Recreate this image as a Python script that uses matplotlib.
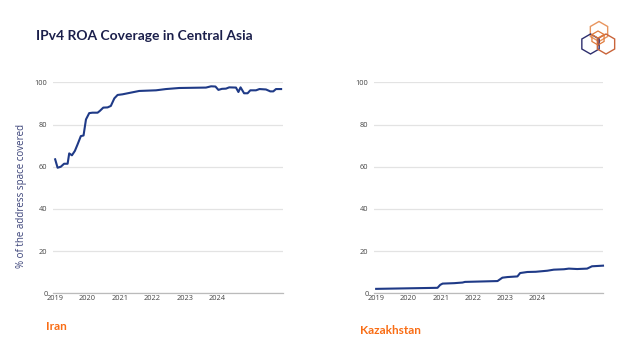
import matplotlib
matplotlib.use("Agg")
import matplotlib.pyplot as plt
from matplotlib.patches import RegularPolygon
import numpy as np

# ---- data (x = months since Jan 2019) ----
iran_months = [0, 0.9, 2.1, 3.3, 4.6, 5.2, 6.2, 7.3, 8.3, 9.5, 10.5, 11.4, 12.6, 13.8,
               15.7, 16.5, 17.8, 19.4, 20.6, 21.9, 23.1, 24.9, 28, 31.1, 37.3, 41,
               45.9, 55.8, 57.7, 59.3, 60.4, 61.7, 63.2, 64.4, 66.9, 67.8, 68.6,
               69.9, 71.2, 72.2, 74.3, 75.6, 78, 79.6, 80.7, 81.7, 83.6]
iran_values = [63.5, 59.5, 60.0, 61.4, 61.4, 66.3, 65.4, 67.5, 70.6, 74.5, 74.8, 82.4,
               85.4, 85.6, 85.6, 86.4, 88.0, 88.1, 88.8, 92.4, 94.0, 94.3, 95.1, 95.9,
               96.2, 96.8, 97.3, 97.5, 98.1, 98.0, 96.4, 96.9, 97.0, 97.6, 97.5, 95.4,
               97.6, 94.8, 94.8, 96.2, 96.2, 96.8, 96.6, 95.7, 95.7, 96.8, 96.8]

kaz_months = [0, 22.8, 23.8, 24.7, 29, 32.1, 33, 45.1, 46.9, 48.8, 52.5, 53.5, 56.2,
              59.3, 63.6, 66, 69.8, 71.6, 74.7, 78.4, 80.2, 84.3]
kaz_values = [2.1, 2.6, 4.0, 4.6, 4.8, 5.1, 5.4, 5.8, 7.4, 7.7, 8.0, 9.6, 10.1, 10.2,
              10.7, 11.2, 11.4, 11.7, 11.5, 11.7, 12.8, 13.1]

year_labels = ["2019", "2020", "2021", "2022", "2023", "2024"]
year_ticks = [0, 12, 24, 36, 48, 60]
y_ticks = [0, 20, 40, 60, 80, 100]

title = "IPv4 ROA Coverage in Central Asia"
ylabel = "% of the address space covered"
panel_names = ["Iran", "Kazakhstan"]

NAVY = "#1f3a87"
TITLE_C = "#1b1f4b"
ORANGE = "#f96d15"
GRID = "#e3e3e3"
TICK_C = "#444444"

plt.rcParams["font.family"] = ["Lato", "DejaVu Sans"]

fig = plt.figure(figsize=(6.4, 3.6), dpi=100)

W, H = 640, 360
def rect(x0, x1, ytop, ybot):
    return [x0 / W, 1 - ybot / H, (x1 - x0) / W, (ybot - ytop) / H]

axes_rects = [rect(53, 283, 82.3, 293.3), rect(374, 603, 82.3, 293.3)]
series = [(iran_months, iran_values), (kaz_months, kaz_values)]

for i, (r, (xs, ys)) in enumerate(zip(axes_rects, series)):
    ax = fig.add_axes(r)
    ax.plot(xs, ys, color=NAVY, lw=1.5, clip_on=False, solid_joinstyle="round")
    ax.set_xlim(-0.8, 84.3)
    ax.set_ylim(0, 100)
    ax.set_yticks(y_ticks)
    ax.set_yticklabels([str(v) for v in y_ticks])
    ax.set_xticks(year_ticks)
    ax.set_xticklabels(year_labels)
    ax.grid(axis="y", color=GRID, lw=0.9)
    ax.set_axisbelow(True)
    for s in ["top", "right", "left"]:
        ax.spines[s].set_visible(False)
    ax.spines["bottom"].set_color("#bbbbbb")
    ax.spines["bottom"].set_linewidth(0.9)
    ax.tick_params(axis="both", length=0, labelsize=5.3, colors=TICK_C)
    for lab in ax.get_xticklabels() + ax.get_yticklabels():
        lab.set_family(["Open Sans", "DejaVu Sans"])
    ax.tick_params(axis="y", pad=4)
    ax.tick_params(axis="x", pad=1.5)

fig.text(21.5 / W, 1 - 196 / H, ylabel, fontsize=7, color="#3a4278", rotation=90,
         ha="center", va="center", family=["Open Sans", "DejaVu Sans"])

fig.text(36 / W, 1 - 35.7 / H, title, fontsize=10, fontweight="bold",
         color=TITLE_C, va="center", ha="left")
fig.text(46 / W, 1 - 327 / H, panel_names[0], fontsize=8.5, fontweight="bold",
         color=ORANGE, va="center", ha="left")
fig.text(360 / W, 1 - 330 / H, panel_names[1], fontsize=8.5, fontweight="bold",
         color=ORANGE, va="center", ha="left")

# logo (hexagon cluster)
lax = fig.add_axes([0, 0, 1, 1], zorder=-1)
lax.set_xlim(0, W)
lax.set_ylim(H, 0)
lax.axis("off")
hexes = [((599, 31.5), "#e8955e"), ((590.5, 44), "#2e2f6e"), ((606, 44), "#c9643a")]
for (cx, cy), col in hexes:
    lax.add_patch(RegularPolygon((cx, cy), numVertices=6, radius=10, orientation=0,
                                 fill=False, edgecolor=col, lw=1.0))
# inner cube lines
cx, cy = 598, 38
lax.add_patch(RegularPolygon((cx, cy), numVertices=6, radius=7, orientation=0,
                             fill=False, edgecolor="#e07a3a", lw=0.9))
lax.plot([cx - 6, cx, cx + 6], [cy - 3.5, cy, cy - 3.5], color="#e07a3a", lw=0.9)
lax.plot([cx, cx], [cy, cy + 7], color="#a05a50", lw=0.9)

fig.savefig("out.png", dpi=100)
